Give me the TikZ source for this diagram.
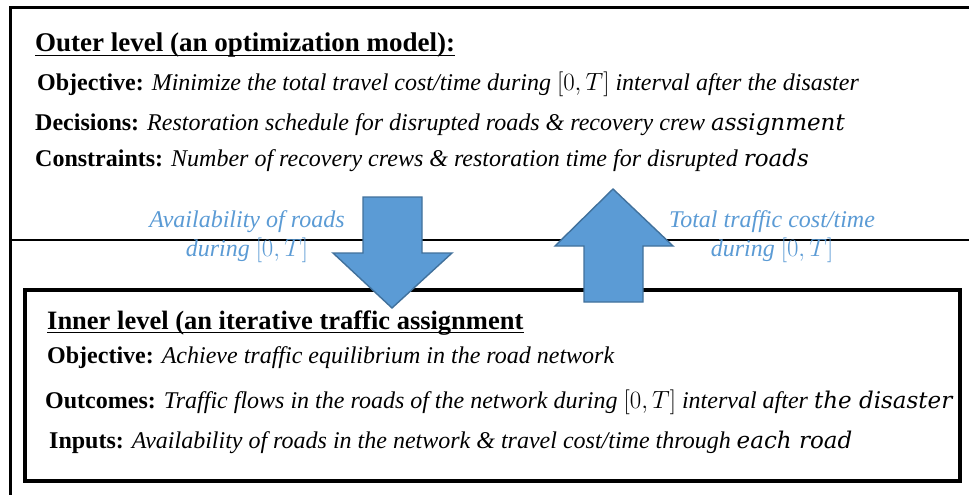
\documentclass[tikz,border=0pt]{standalone}
\usepackage{fontspec}
\setmainfont{LiberationSerif}[Extension=.ttf,UprightFont=*-Regular,BoldFont=*-Bold,ItalicFont=*-Italic,BoldItalicFont=*-BoldItalic]
\newfontfamily\bigital{DejaVuSerif}[Extension=.ttf,UprightFont=*-Italic,ItalicFont=*-Italic]
\definecolor{arrowfill}{HTML}{5B9BD5}
\definecolor{arrowedge}{HTML}{41719C}
\definecolor{labelblue}{HTML}{5B9BD5}
\newcommand{\BigW}[1]{{\bigital\fontsize{23}{23}\selectfont #1}}
\begin{document}
\begin{tikzpicture}[x=1pt,y=-1pt,
  txt/.style={anchor=base west,inner sep=0pt,font=\fontsize{24}{26}\selectfont},
  ttl/.style={anchor=base west,inner sep=0pt,font=\bfseries\fontsize{27}{29}\selectfont},
  ttlb/.style={anchor=base west,inner sep=0pt,font=\bfseries\fontsize{26.5}{29}\selectfont},
  lbl/.style={align=center,inner sep=0pt,text=labelblue,font=\itshape\fontsize{24}{29}\selectfont},
  fatarrow/.style={fill=arrowfill,draw=arrowedge,line width=1.4pt,line join=miter},
  uline/.style={line width=1.8pt}]
\useasboundingbox (0,0) rectangle (969,495);
\fill[white] (0,0) rectangle (969,495);
% outer level frame
\draw[line width=3pt] (10,520) -- (10,8) -- (990,8);
\draw[line width=1.4pt] (10,240) -- (990,240);
% inner level box
\draw[line width=3.5pt] (25,290) rectangle (960,481);
% outer texts
\node[ttl] (ot) at (35,52) {Outer level (an optimization model):};
\draw[uline] ([yshift=-3.5pt]ot.base west) -- ([yshift=-3.5pt]ot.base east);
\node[txt] (oo) at (37,90) {\textbf{Objective:} \textit{Minimize the total travel cost/time during $[0,T]$ interval after the disaster}};
\node[txt] (od) at (35,130) {\textbf{Decisions:} \textit{Restoration schedule for disrupted roads \& recovery crew} \BigW{assignment}};
\node[txt] (oc) at (35,166) {\textbf{Constraints:} \textit{Number of recovery crews \& restoration time for disrupted} \BigW{roads}};
% inner texts
\node[ttlb] (it) at (47,329) {Inner level (an iterative traffic assignment};
\draw[uline] ([yshift=-3.5pt]it.base west) -- ([yshift=-3.5pt]it.base east);
\node[txt] (io) at (47,363) {\textbf{Objective:} \textit{Achieve traffic equilibrium in the road network}};
\node[txt] (iu) at (45,408) {\textbf{Outcomes:} \textit{Traffic flows in the roads of the network during $[0,T]$ interval after} \BigW{the disaster}};
\node[txt] (ii) at (49,448) {\textbf{Inputs:} \textit{Availability of roads in the network \& travel cost/time through} \BigW{each road}};
% arrows
\draw[fatarrow] (363,197) -- (422,197) -- (422,253) -- (452,253) -- (392,308) -- (333,253) -- (363,253) -- cycle;
\draw[fatarrow] (584,302) -- (643,302) -- (643,246) -- (673,246) -- (613,189) -- (555,246) -- (584,246) -- cycle;
% arrow labels
\node[lbl] (la) at (247,237) {Availability of roads\\during $[0,T]$};
\node[lbl] (lb) at (772,237) {Total traffic cost/time\\during $[0,T]$};
\end{tikzpicture}
\end{document}
